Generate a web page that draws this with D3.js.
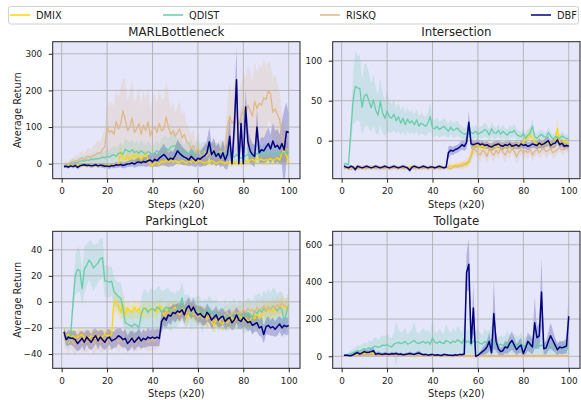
<!DOCTYPE html>
<html>
<head>
<meta charset="utf-8">
<script src="https://cdn.jsdelivr.net/npm/d3@7"></script>
<style>
body { margin: 0; background: white; }
</style>
</head>
<body>
<div id="chart"></div>
<script>
// series info
const seriesNames = ["DMIX", "QDIST", "RISKQ", "DBF"];
const seriesColors = ["gold", "mediumaquamarine", "burlywood", "navy"];
const steps = d3.range(1, 101);
const xTicks = [0, 20, 40, 60, 80, 100];

// MARLBottleneck
const marlDMIX = [-5,-6,-4,-7,-5,-6,-5,-4,-6,-5, -6,-5,-4,-5,-6,-4,-5,-6,-5,-4, -5,-3,-4,-2,-3,35,15,10,20,12, 18,25,15,22,10,20,29,8,-3,-5,
  2,5,-2,8,3,10,5,12,4,8, 6,3,9,5,2,7,4,10,3,6, 8,4,2,6,3,9,5,1,4,7, 3,0,5,2,-2,6,1,3,0,4, 8,5,10,12,7,15,9,13,8,11, 10,14,8,12,16,10,30,35,20,5];
const marlQDIST = [-6,-4,-2,0,5,2,4,6,8,7, 10,9,12,11,14,13,15,18,16,20, 18,22,25,20,28,30,26,40,35,32, 38,30,34,28,36,30,27,33,30,25,
  30,35,28,38,40,42,36,45,48,50, 35,40,30,25,32,28,38,22,30,35, 28,33,30,25,35,30,28,32,27,30, 34,25,30,28,22,18,25,20,15,18, 22,25,20,28,30,26,32,24,28,30, 25,30,28,26,32,28,30,26,33,30];
const marlRISKQ = [-3,0,-2,5,3,8,6,12,15,10, 18,20,15,22,25,30,28,40,45,100, 85,90,80,115,95,110,145,120,90,100, 125,85,95,110,80,105,90,115,75,95,
  100,85,110,90,95,128,100,80,90,75, 85,95,70,80,60,55,40,50,30,45, 25,15,35,20,30,25,40,20,30,35, 25,40,100,130,110,120,140,105,125,150, 135,160,145,130,170,150,165,160,180,175, 200,190,140,150,135,120,70,45,40,35];
const marlDBF = [-8,-7,-9,-6,-8,-5,-10,-6,-4,-3, -5,-4,-6,-5,-3,-6,-4,-5,-7,-6, -8,-5,-6,-3,-4,-2,-5,-3,-1,0, 2,-1,3,5,2,6,4,8,10,5,
  12,8,15,20,25,18,10,15,12,22, 35,28,22,18,15,10,20,14,8,15, 12,18,22,30,60,25,35,20,28,15, 30,10,25,75,0,100,229,0,110,0, 155,60,35,25,20,100,30,38,35,45, 55,40,62,45,50,40,55,38,88,85];
// spread (half width of the shaded band)
const marlDMIXsd = [4,4,4,5,4,5,4,4,5,4, 5,4,4,5,5,4,5,5,4,4, 5,4,5,4,5,25,15,12,15,12, 15,18,14,16,12,15,18,10,8,8,
  10,10,8,12,10,12,10,12,10,10, 10,8,10,10,8,10,9,12,8,10, 10,9,8,10,9,12,10,8,9,10, 10,8,10,9,8,10,9,10,8,10, 12,10,14,15,12,18,14,16,12,15, 14,16,12,15,18,14,30,30,25,10];
const marlQDISTsd = [5,5,6,8,10,8,10,12,12,12, 15,14,16,15,18,16,18,20,18,22, 20,22,25,22,25,28,25,30,28,26, 30,25,28,25,30,26,24,28,25,22,
  25,28,25,30,32,35,30,35,38,40, 30,35,28,25,30,28,32,22,28,30, 25,28,26,24,30,28,25,28,24,26, 28,24,26,25,22,20,24,20,18,20, 22,24,20,25,26,24,28,22,25,26, 24,26,25,24,28,25,26,24,28,26];
const marlRISKQsd = [5,6,8,10,12,15,14,18,20,18, 22,25,22,28,30,35,32,40,50,80, 70,80,75,95,85,100,90,110,80,95, 110,80,90,100,75,95,85,100,70,85,
  90,80,95,85,80,100,90,70,80,65, 70,80,60,65,50,45,40,45,30,40, 25,20,30,25,30,25,35,25,30,30, 30,40,70,90,80,95,100,90,95,100, 100,110,105,95,110,100,105,100,110,90, 80,85,90,95,85,80,70,50,40,35];
const marlDBFsd = [4,4,5,4,5,5,6,5,5,5, 5,5,6,5,5,6,6,7,6,6, 7,6,7,8,7,8,8,9,8,9, 10,10,12,12,10,12,14,15,18,15,
  20,18,22,25,30,25,20,22,20,25, 30,28,25,22,20,18,25,22,18,20, 22,25,28,35,40,30,35,28,30,25, 35,25,40,60,10,60,90,10,50,10, 50,40,35,30,30,50,30,35,35,40, 45,40,50,45,45,40,60,110,80,50];

// Intersection
const intDMIX = [-34,-33,-35,-33,-34,-33,-34,-32,-33,-34, -33,-34,-33,-32,-33,-34,-33,-34,-33,-33, -34,-33,-34,-33,-33,-34,-33,-33,-34,-33, -33,-34,-33,-33,-34,-33,-34,-33,-33,-34,
  -33,-34,-33,-33,-34,-33,-32,-31,-32,-31, -30,-31,-29,-28,-30,-27,-18,-8,-5,-7, -8,-6,-9,-5,-7,-10,-6,-8,-7,-5, -8,-6,-7,-5,-8,-6,-7,-4,-5,-2, 2,5,7,3,-2,-4,-6,-3,-5,-2, -4,-3,-6,-2,15,-3,-2,0,-3,-2];
const intQDIST = [-29,-29,-30,10,50,68,66,65,42,56, 58,50,41,51,38,32,49,35,28,37, 30,28,33,25,30,22,28,20,27,22, 25,20,26,18,22,20,18,22,30,16,
  15,18,14,16,18,15,12,17,13,14, 16,12,10,8,9,12,10,9,12,8, 10,11,14,12,7,15,10,9,13,8, 12,9,7,11,10,13,8,6,5,9, 3,7,10,18,5,3,6,8,5,4, 10,6,2,5,4,3,6,4,3,2];
const intRISKQ = [-35,-34,-35,-36,-35,-34,-35,-35,-34,-35, -35,-34,-35,-34,-35,-35,-34,-35,-35,-34, -35,-35,-34,-35,-35,-34,-35,-35,-34,-35, -34,-35,-35,-34,-35,-35,-34,-35,-35,-34,
  -35,-34,-35,-35,-34,-33,-34,-35,-33,-32, -33,-31,-32,-30,-28,-25,-20,-10,-12,-15, -18,-12,-14,-20,-10,-15,-18,-12,-16,-10, -14,-18,-12,-15,-10,-13,-20,-14,-11,-16, -12,-15,-10,-18,-13,-11,-15,-12,-10,-14, -12,-10,-15,-13,-11,-8,-12,-10,-9,-11];
const intDBF = [-32,-33,-34,-32,-33,-36,-32,-33,-34,-33, -32,-33,-34,-33,-32,-33,-34,-33,-32,-33, -34,-33,-32,-33,-34,-33,-32,-33,-34,-37, -33,-32,-33,-34,-33,-32,-33,-34,-33,-33,
  -34,-33,-32,-33,-34,-33,-15,-12,-13,-11, -10,-8,-5,-7,-2,23,-4,-5,-4,-3, -5,-4,-6,-5,-7,-8,-6,-5,-4,-6, -7,-5,-6,-4,-7,-6,-5,-7,-4,-6, -5,-7,-6,-4,-5,-6,-3,-5,-4,-2, 0,-6,-4,-3,1,-5,-3,-7,-6,-7];
const intDMIXsd = [2,2,2,2,2,2,2,2,2,2, 2,2,2,2,2,2,2,2,2,2, 2,2,2,2,2,2,2,2,2,2, 2,2,2,2,2,2,2,2,2,2,
  2,2,2,2,2,2,3,3,3,3, 3,3,3,4,4,5,8,8,6,6, 6,5,7,5,6,7,5,6,6,5, 6,5,6,5,6,5,6,5,5,6, 8,9,8,7,6,6,7,6,6,5, 6,5,7,5,15,6,5,5,6,5];
const intQDISTsd = [2,2,2,15,30,45,40,42,35,40, 38,35,30,32,28,25,30,25,22,25, 20,18,20,16,18,15,16,14,15,14, 14,13,14,12,13,12,12,13,18,12,
  10,11,10,10,11,10,9,10,9,10, 9,8,8,7,8,8,7,8,8,7, 8,8,9,8,7,9,8,7,8,7, 8,7,7,8,7,8,7,6,6,7, 6,7,7,10,6,6,7,6,6,6, 7,6,5,6,5,5,6,5,5,5];
const intRISKQsd = [2,2,2,2,2,2,2,2,2,2, 2,2,2,2,2,2,2,2,2,2, 2,2,2,2,2,2,2,2,2,2, 2,2,2,2,2,2,2,2,2,2,
  2,2,2,2,2,3,3,3,3,3, 3,4,4,4,5,6,8,8,7,8, 9,7,8,10,7,8,9,7,8,6, 8,9,7,8,6,7,10,8,7,9, 7,8,6,9,7,6,8,7,6,8, 7,6,8,7,6,5,7,6,5,6];
const intDBFsd = [2,2,2,2,2,3,2,2,2,2, 2,2,2,2,2,2,2,2,2,2, 2,2,2,2,2,2,2,2,2,3, 2,2,2,2,2,2,2,2,2,2,
  2,2,2,2,2,2,8,6,5,5, 5,5,6,6,8,14,6,5,5,5, 4,5,4,5,4,5,5,4,5,4, 5,4,5,4,5,4,5,4,5,4, 5,5,4,5,4,5,6,5,5,6, 6,5,5,6,5,4,5,5,4,5];

// ParkingLot
const pkDMIX = [-24,-26,-25,-27,-26,-28,-27,-26,-25,-28, -27,-28,-26,-27,-28,-26,-28,-27,-25,-26, -26,-25,0,0,-3,-8,-2,-10,-5,-7, -8,-4,-7,-5,-10,-6,-5,-7,-6,-5,
  -6,-8,-3,-5,-10,-8,-5,-7,-6,-4, -8,-10,-5,-7,-12,-9,-5,-10,-8,-6, -10,-12,-8,-13,-10,-15,-18,-14,-12,-16, -17,-13,-16,-14,-12,-15,-13,-10,-12,-14, -12,-15,-14,-11,-13,-9,-12,-10,-8,-7, -7,-6,-8,-5,-6,-5,-4,-3,-5,-4];
const pkQDIST = [-25,-28,-33,-25,0,20,25,24,10,25, 28,32,30,26,28,30,33,34,16,16, 15,16,8,6,4,3,-5,-16,-17,-18, -19,-17,-18,-20,-10,-5,-5,-8,-6,-5,
  -7,-4,-5,-8,-6,-4,-5,-8,-6,-7, -5,-3,3,-6,-8,-5,-10,-7,-9,-6, -8,-12,-7,-10,-5,-9,-11,-8,-12,-10, -12,-9,-13,-10,-11,-8,-12,-10,-9,-13, -11,-8,-10,-12,-7,-9,-6,-8,-5,-7, -4,-6,-3,-5,-7,-4,-6,-15,-8,-2];
const pkRISKQ = [-28,-30,-32,-29,-31,-33,-30,-28,-32,-29, -31,-30,-28,-32,-30,-29,-31,-30,-28,-31, -29,-30,-28,-27,-31,-29,-30,-28,-32,-29, -30,-28,-31,-29,-30,-28,-29,-31,-30,-29,
  -30,-28,-27,-15,-12,-10,-8,-10,-6,-9, -7,-10,-8,-6,-9,-5,-8,-7,-10,-12, -10,-13,-11,-14,-12,-10,-15,-13,-11,-14, -12,-10,-8,-11,-9,-7,-10,-8,-9,-6, -8,-5,-7,-6,-9,-4,-6,-5,-3,-7, -4,-6,-3,-5,-2,-4,-1,-3,-4,-3];
const pkDBF = [-23,-29,-27,-28,-28,-29,-32,-30,-28,-31, -27,-29,-31,-28,-26,-30,-27,-29,-31,-28, -27,-30,-29,-28,-26,-27,-29,-28,-32,-30, -28,-31,-29,-27,-30,-28,-29,-27,-28,-27,
  -28,-27,-28,-15,-12,-14,-10,-11,-8,-9, -7,-8,-6,-10,-5,-3,-7,-4,-8,-10, -9,-11,-12,-8,-10,-14,-12,-10,-14,-12, -11,-15,-13,-12,-16,-14,-10,-14,-15,-12, -14,-16,-15,-18,-17,-16,-20,-19,-25,-19, -18,-20,-19,-21,-19,-17,-20,-18,-19,-18];
const pkDMIXsd = [4,5,5,6,5,6,5,6,5,6, 5,6,5,6,5,6,5,6,5,6, 5,6,8,8,7,8,7,8,7,6, 6,7,6,7,6,7,6,7,6,6,
  6,7,6,7,6,7,6,7,6,6, 7,6,7,6,7,6,7,6,7,6, 6,7,6,7,6,7,6,7,6,7, 6,7,6,7,6,7,6,7,6,7, 6,7,6,7,6,7,6,7,6,7, 6,7,6,7,6,7,6,7,6,6];
const pkQDISTsd = [4,5,4,6,10,15,18,16,14,18, 16,15,17,18,16,15,16,15,12,12, 12,11,12,10,11,12,12,12,13,12, 12,11,12,13,12,14,15,14,16,15,
  16,15,17,16,15,14,16,15,14,13, 14,12,13,12,13,11,12,11,12,11, 11,12,10,11,10,11,12,10,11,10, 10,11,10,11,10,11,10,11,10,11, 12,11,12,13,12,14,13,12,14,13, 14,13,14,15,13,12,14,13,12,10];
const pkRISKQsd = [6,7,8,7,8,9,8,7,8,9, 8,7,8,9,8,7,8,9,8,7, 8,7,8,9,8,7,8,7,8,7, 8,7,8,7,8,7,8,7,8,7,
  8,7,8,8,7,6,7,6,7,6, 7,6,7,6,7,6,7,6,7,6, 7,6,7,6,7,6,7,6,7,6, 7,6,7,6,7,6,7,6,7,6, 7,6,7,6,7,6,7,6,7,6, 7,6,7,6,7,6,7,6,7,6];
const pkDBFsd = [4,5,6,5,6,7,6,7,6,7, 6,7,6,7,6,7,6,7,6,7, 6,7,6,7,6,7,6,7,6,7, 6,7,6,7,6,7,6,7,6,7,
  6,7,6,7,6,7,6,7,6,7, 6,7,6,7,6,7,6,7,6,7, 6,7,6,7,6,7,6,7,6,7, 6,7,6,7,6,7,6,7,6,7, 6,7,6,7,6,7,6,8,7,6, 7,6,7,6,7,6,7,6,7,6];

// Tollgate (DMIX and RISKQ sit on top of each other after step 40)
const tgDMIX = [3,4,5,6,8,10,12,15,18,14, 16,20,18,15,12,10,8,9,7,8, 6,8,7,5,6,8,5,4,6,5, 4,5,3,4,5,3,4,2,3,4,
  3,2,4,3,3,3,2,3,3,3, 2,3,3,3,2,3,2,3,2,3, 3,3,2,3,2,3,3,3,2,3, 2,3,3,3,2,3,2,3,3,3, 2,3,2,3,3,3,2,3,2,3, 3,3,2,3,2,3,3,3,2,3];
const tgQDIST = [5,8,10,15,20,25,30,28,35,40, 38,45,42,50,55,48,52,60,58,62, 55,50,65,70,75,68,72,80,65,70, 78,85,72,68,75,80,70,78,65,100,
  75,70,80,72,68,85,78,70,82,75, 88,80,70,95,75,82,60,85,75,78, 70,65,80,72,75,90,68,60,55,65, 58,62,75,60,55,68,62,58,70,52, 60,55,65,58,48,62,55,60,50,45, 52,48,55,50,45,42,48,44,40,42];
const tgRISKQ = [2,3,4,3,5,6,5,4,6,5, 6,5,7,6,5,6,5,7,6,5, 6,5,6,7,5,6,5,6,7,5, 6,5,6,5,7,6,5,6,5,6,
  3,2,4,3,3,3,2,3,3,3, 2,3,3,3,2,3,2,3,2,3, 3,3,2,3,2,3,3,3,2,3, 2,3,3,3,2,3,2,3,3,3, 2,3,2,3,3,3,2,3,2,3, 3,3,2,3,2,3,3,3,2,3];
const tgDBF = [5,5,4,3,8,15,20,12,18,25, 20,22,25,30,10,15,12,10,14,12, 10,14,12,15,10,12,8,10,12,15, 12,10,15,18,12,8,10,6,8,10,
  5,8,6,4,10,8,5,6,4,8, 6,10,8,12,450,495,70,260,0,5, 15,25,35,50,80,20,230,80,40,25, 30,50,45,70,85,60,35,50,60,15, 45,80,65,50,180,100,110,345,40,45, 80,110,85,60,35,50,45,50,55,215];
const tgDMIXsd = [4,5,6,6,8,10,10,12,12,10, 10,12,12,10,10,8,8,8,6,6, 6,6,6,5,5,6,5,5,5,5, 5,5,4,5,5,4,5,4,4,5,
  3,3,3,3,3,3,3,3,3,3, 3,3,3,3,3,3,3,3,3,3, 3,3,3,3,3,3,3,3,3,3, 3,3,3,3,3,3,3,3,3,3, 3,3,3,3,3,3,3,3,3,3, 3,3,3,3,3,3,3,3,3,3];
const tgQDISTsd = [5,8,10,15,20,25,30,28,30,35, 30,40,35,45,50,40,45,55,50,60, 50,45,60,120,70,60,65,75,55,60, 70,100,60,55,65,75,60,70,55,110,
  60,55,70,60,55,90,65,55,70,60, 75,65,55,90,60,70,45,75,60,65, 55,50,70,60,65,80,55,45,40,50, 45,50,65,45,40,55,50,45,60,40, 50,45,55,45,35,50,45,50,40,35, 40,35,45,40,35,30,35,30,28,30];
const tgRISKQsd = [5,6,6,7,8,8,7,8,9,8, 9,8,9,10,9,8,9,10,9,8, 9,8,9,10,9,8,9,8,9,8, 9,8,9,8,9,8,9,8,9,8,
  10,9,10,9,10,9,10,9,10,9, 10,9,10,9,10,9,10,9,10,9, 10,9,10,9,10,9,10,9,10,9, 10,9,10,9,10,9,10,9,10,9, 10,9,10,9,10,9,10,9,10,9, 10,9,10,9,10,9,10,9,10,9];
const tgDBFsd = [5,5,5,5,6,10,12,10,12,15, 12,14,15,18,10,12,10,8,10,8, 8,10,8,10,8,8,6,8,8,10, 8,8,10,12,8,6,8,5,6,8,
  5,6,5,4,6,5,4,5,4,6, 5,6,6,8,100,140,20,140,10,8, 12,20,25,35,50,20,190,50,30,20, 25,35,30,45,50,40,30,35,40,15, 35,50,45,40,140,60,70,190,30,35, 50,70,55,40,30,35,35,35,40,150];

const panels = [
    {title: "MARLBottleneck", mean: [marlDMIX, marlQDIST, marlRISKQ, marlDBF],
     spread: [marlDMIXsd, marlQDISTsd, marlRISKQsd, marlDBFsd], yDomain: [-41, 333], yTicks: [0, 100, 200, 300]},
    {title: "Intersection", mean: [intDMIX, intQDIST, intRISKQ, intDBF],
     spread: [intDMIXsd, intQDISTsd, intRISKQsd, intDBFsd], yDomain: [-47.5, 123.75], yTicks: [0, 50, 100]},
    {title: "ParkingLot", mean: [pkDMIX, pkQDIST, pkRISKQ, pkDBF],
     spread: [pkDMIXsd, pkQDISTsd, pkRISKQsd, pkDBFsd], yDomain: [-51, 54.2], yTicks: [-40, -20, 0, 20, 40]},
    {title: "Tollgate", mean: [tgDMIX, tgQDIST, tgRISKQ, tgDBF],
     spread: [tgDMIXsd, tgQDISTsd, tgRISKQsd, tgDBFsd], yDomain: [-64.7, 672], yTicks: [0, 200, 400, 600]}
];

function chart() {
    const overall_width = 581
    const overall_height = 400
    const colLeft = [52.7, 332.7]
    const rowTop = [41.7, 231.3]
    const plotW = 247.3
    const plotH = 137
    const font = "DejaVu Sans"

    let svg = d3.select("#chart")
        .append("svg")
        .attr("width", overall_width)
        .attr("height", overall_height)
        .style("font-family", font);

    svg.append("rect")
        .attr("width", "100%")
        .attr("height", "100%")
        .attr("fill", "white");

    let scaleColor = d3.scaleOrdinal().domain(seriesNames).range(seriesColors);

    panels.forEach(function (p, i) {
        let col = i % 2;
        let row = Math.floor(i / 2);
        let g = svg.append("g")
            .attr("transform", `translate(${colLeft[col]}, ${rowTop[row]})`);

        let x = d3.scaleLinear().domain([-3.95, 104.95]).range([0, plotW]);
        let y = d3.scaleLinear().domain(p.yDomain).range([plotH, 0]);

        //background
        g.append("rect")
            .attr("width", plotW)
            .attr("height", plotH)
            .attr("fill", "#E6E6FA");

        g.append("clipPath").attr("id", "clip" + i)
            .append("rect").attr("width", plotW).attr("height", plotH);
        let body = g.append("g").attr("clip-path", `url(#clip${i})`);

        //bands first (under grid)
        seriesNames.forEach(function (name, k) {
            let area = d3.area()
                .x((d, j) => x(steps[j]))
                .y0((d, j) => y(d - p.spread[k][j]))
                .y1((d, j) => y(d + p.spread[k][j]));
            body.append("path")
                .attr("d", area(p.mean[k]))
                .attr("fill", scaleColor(name))
                .attr("opacity", 0.22);
        });

        //grid
        let grid = body.append("g");
        xTicks.forEach(function (t) {
            grid.append("line")
                .attr("x1", x(t)).attr("x2", x(t))
                .attr("y1", 0).attr("y2", plotH)
                .attr("stroke", "#b0b0b0").attr("stroke-width", 0.9);
        });
        p.yTicks.forEach(function (t) {
            grid.append("line")
                .attr("x1", 0).attr("x2", plotW)
                .attr("y1", y(t)).attr("y2", y(t))
                .attr("stroke", "#b0b0b0").attr("stroke-width", 0.9);
        });

        //lines
        seriesNames.forEach(function (name, k) {
            let line = d3.line()
                .x((d, j) => x(steps[j]))
                .y(d => y(d));
            body.append("path")
                .attr("d", line(p.mean[k]))
                .attr("fill", "none")
                .attr("stroke", scaleColor(name))
                .attr("stroke-width", name === "DBF" ? 1.5 : 1.3)
                .attr("stroke-linejoin", "round");
        });

        //axes
        let axisX = g.append("g")
            .attr("transform", `translate(0, ${plotH})`)
            .call(d3.axisBottom(x).tickValues(xTicks).tickSize(4).tickPadding(5.5));
        let axisY = g.append("g")
            .call(d3.axisLeft(y).tickValues(p.yTicks).tickSize(4).tickPadding(6.5));
        [axisX, axisY].forEach(function (a) {
            a.select(".domain").remove();
            a.selectAll("line").attr("stroke", "#222");
            a.selectAll("text").attr("font-size", "8.8px").attr("font-family", font).attr("fill", "#222");
        });

        //frame
        g.append("rect")
            .attr("width", plotW)
            .attr("height", plotH)
            .attr("fill", "none")
            .attr("stroke", "#222")
            .attr("stroke-width", 1);

        g.append("text")
            .attr("x", plotW / 2)
            .attr("y", -6)
            .attr("text-anchor", "middle")
            .attr("font-size", "11.8px")
            .attr("fill", "#222")
            .text(p.title);

        g.append("text")
            .attr("x", plotW / 2)
            .attr("y", plotH + 29)
            .attr("text-anchor", "middle")
            .attr("font-size", "9.8px")
            .attr("fill", "#222")
            .text("Steps (x20)");

        if (col === 0) {
            g.append("text")
                .attr("transform", `translate(-32, ${plotH / 2}) rotate(-90)`)
                .attr("text-anchor", "middle")
                .attr("font-size", "9.8px")
                .attr("fill", "#222")
                .text("Average Return");
        }
    });

    //legend across the top
    let legend = svg.append("g");
    legend.append("rect")
        .attr("x", 8.5).attr("y", 6.5)
        .attr("width", 570).attr("height", 17.5)
        .attr("rx", 2)
        .attr("fill", "white")
        .attr("stroke", "#d0d0d0");
    const legendX = [10, 163, 320, 531];
    seriesNames.forEach(function (name, k) {
        legend.append("line")
            .attr("x1", legendX[k]).attr("x2", legendX[k] + 20)
            .attr("y1", 15).attr("y2", 15)
            .attr("stroke", scaleColor(name))
            .attr("stroke-width", 1.5);
        legend.append("text")
            .attr("x", legendX[k] + 26)
            .attr("y", 18.5)
            .attr("font-size", "9.8px")
            .attr("fill", "#222")
            .text(name);
    });
}
chart();
</script>
</body>
</html>
